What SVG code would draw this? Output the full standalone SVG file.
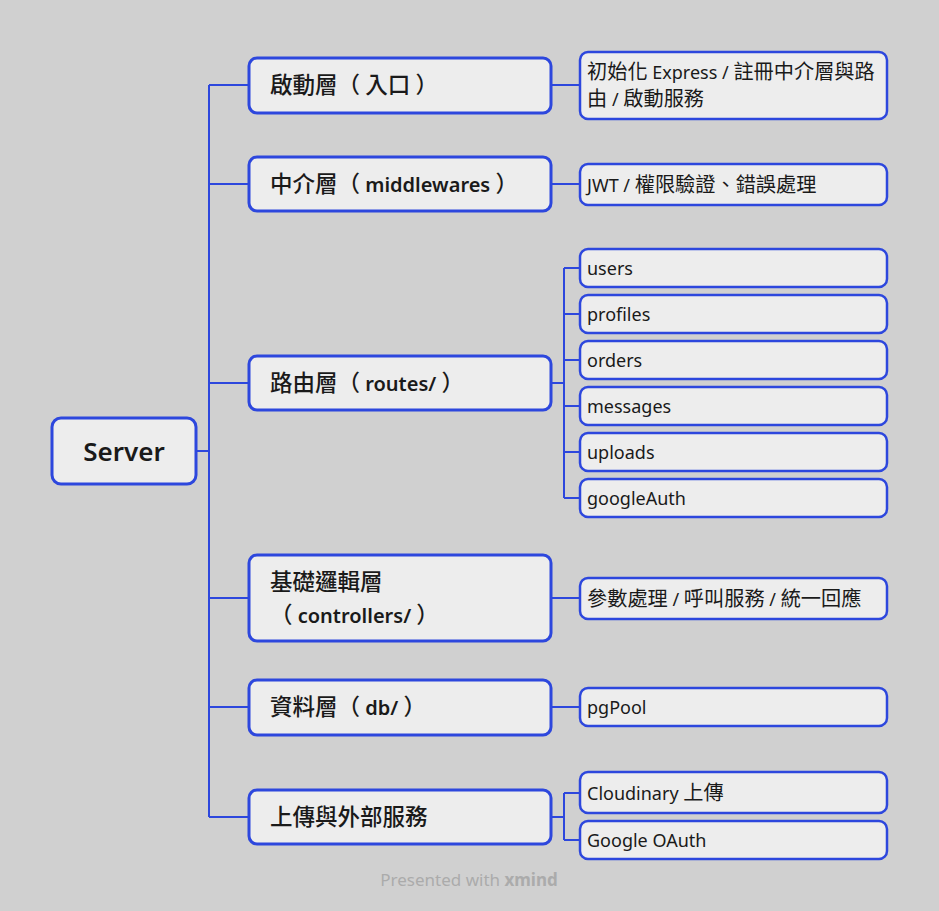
<svg xmlns="http://www.w3.org/2000/svg" width="939" height="911" viewBox="0 0 939 911">
<style>
.bg{fill:#D0D0D0}
.box{fill:#EDEDED;stroke:#2D47DD;stroke-width:2.5}
.l1{fill:#EDEDED;stroke:#2D47DD;stroke-width:3}
.conn{fill:none;stroke:#2D47DD;stroke-width:2}
text{font-family:"Noto Sans","Noto Sans CJK TC",sans-serif;fill:#1A1A1A}
.t0{font-size:26px;font-weight:600}
.t1{font-size:20px;font-weight:600}
.t2{font-size:18px}
.c1{font-size:22.5px;font-weight:500;font-family:"Noto Sans CJK TC",sans-serif}
.c2{font-size:20.2px;font-family:"Noto Sans CJK TC",sans-serif}
.wm{font-size:17px;fill:#ABABAB}
</style>
<rect class="bg" x="0" y="0" width="939" height="911"/>
<g id="connectors">
<path class="conn" d="M196,451 H209 M209,85 V817 M209,85 H249 M209,184 H249 M209,383 H249 M209,598 H249 M209,707 H249 M209,817 H249"/>
<path class="conn" d="M551,85 H580 M551,184 H580 M551,598 H580 M551,707 H580"/>
<path class="conn" d="M551,383 H564 M564,268 V498 M564,268 H580 M564,314 H580 M564,360 H580 M564,406 H580 M564,452 H580 M564,498 H580"/>
<path class="conn" d="M551,817 H564 M564,793 V840 M564,793 H580 M564,840 H580"/>
</g>
<g id="server"><rect class="l1" x="52" y="418" width="144" height="66" rx="9"/><text class="t0" x="124" y="461" text-anchor="middle">Server</text></g>
<g id="entry"><rect class="l1" x="249" y="58" width="302" height="55" rx="8"/><text class="t1" x="270" y="93"><tspan class="c1">啟動層（</tspan> <tspan class="c1">入口</tspan> <tspan class="c1">）</tspan></text></g>
<g id="middleware"><rect class="l1" x="249" y="157" width="302" height="54" rx="8"/><text class="t1" x="270" y="192"><tspan class="c1">中介層（</tspan> middlewares <tspan class="c1">）</tspan></text></g>
<g id="routes"><rect class="l1" x="249" y="356" width="302" height="54" rx="8"/><text class="t1" x="270" y="391"><tspan class="c1">路由層（</tspan> routes/ <tspan class="c1">）</tspan></text></g>
<g id="controllers"><rect class="l1" x="249" y="555" width="302" height="86" rx="8"/><text class="t1"><tspan x="270" y="590"><tspan class="c1">基礎邏輯層</tspan></tspan><tspan x="270" y="623"><tspan class="c1">（</tspan> controllers/ <tspan class="c1">）</tspan></tspan></text></g>
<g id="db"><rect class="l1" x="249" y="680" width="302" height="55" rx="8"/><text class="t1" x="270" y="715"><tspan class="c1">資料層（</tspan> db/ <tspan class="c1">）</tspan></text></g>
<g id="external"><rect class="l1" x="249" y="790" width="302" height="54" rx="8"/><text class="t1" x="270" y="825"><tspan class="c1">上傳與外部服務</tspan></text></g>
<g id="entry-desc"><rect class="box" x="580" y="52" width="307" height="67" rx="8"/><text class="t2"><tspan x="587" y="79"><tspan class="c2">初始化</tspan> Express / <tspan class="c2">註冊中介層與路</tspan></tspan><tspan x="587" y="106"><tspan class="c2">由</tspan> / <tspan class="c2">啟動服務</tspan></tspan></text></g>
<g id="mw-desc"><rect class="box" x="580" y="164" width="307" height="41" rx="8"/><text class="t2" x="587" y="192">JWT / <tspan class="c2">權限驗證、錯誤處理</tspan></text></g>
<g id="r-users"><rect class="box" x="580" y="249" width="307" height="38" rx="8"/><text class="t2" x="587" y="275">users</text></g>
<g id="r-profiles"><rect class="box" x="580" y="295" width="307" height="38" rx="8"/><text class="t2" x="587" y="321">profiles</text></g>
<g id="r-orders"><rect class="box" x="580" y="341" width="307" height="38" rx="8"/><text class="t2" x="587" y="367">orders</text></g>
<g id="r-messages"><rect class="box" x="580" y="387" width="307" height="38" rx="8"/><text class="t2" x="587" y="413">messages</text></g>
<g id="r-uploads"><rect class="box" x="580" y="433" width="307" height="38" rx="8"/><text class="t2" x="587" y="459">uploads</text></g>
<g id="r-googleAuth"><rect class="box" x="580" y="479" width="307" height="38" rx="8"/><text class="t2" x="587" y="505">googleAuth</text></g>
<g id="ctrl-desc"><rect class="box" x="580" y="578" width="307" height="41" rx="8"/><text class="t2" x="587" y="606"><tspan class="c2">參數處理</tspan> / <tspan class="c2">呼叫服務</tspan> / <tspan class="c2">統一回應</tspan></text></g>
<g id="db-desc"><rect class="box" x="580" y="688" width="307" height="38" rx="8"/><text class="t2" x="587" y="714">pgPool</text></g>
<g id="cloudinary"><rect class="box" x="580" y="772" width="307" height="41" rx="8"/><text class="t2" x="587" y="800">Cloudinary <tspan class="c2">上傳</tspan></text></g>
<g id="google-oauth"><rect class="box" x="580" y="821" width="307" height="38" rx="8"/><text class="t2" x="587" y="847">Google OAuth</text></g>
<text class="wm" x="469" y="886" text-anchor="middle">Presented with <tspan font-weight="700">xmind</tspan></text>
</svg>
